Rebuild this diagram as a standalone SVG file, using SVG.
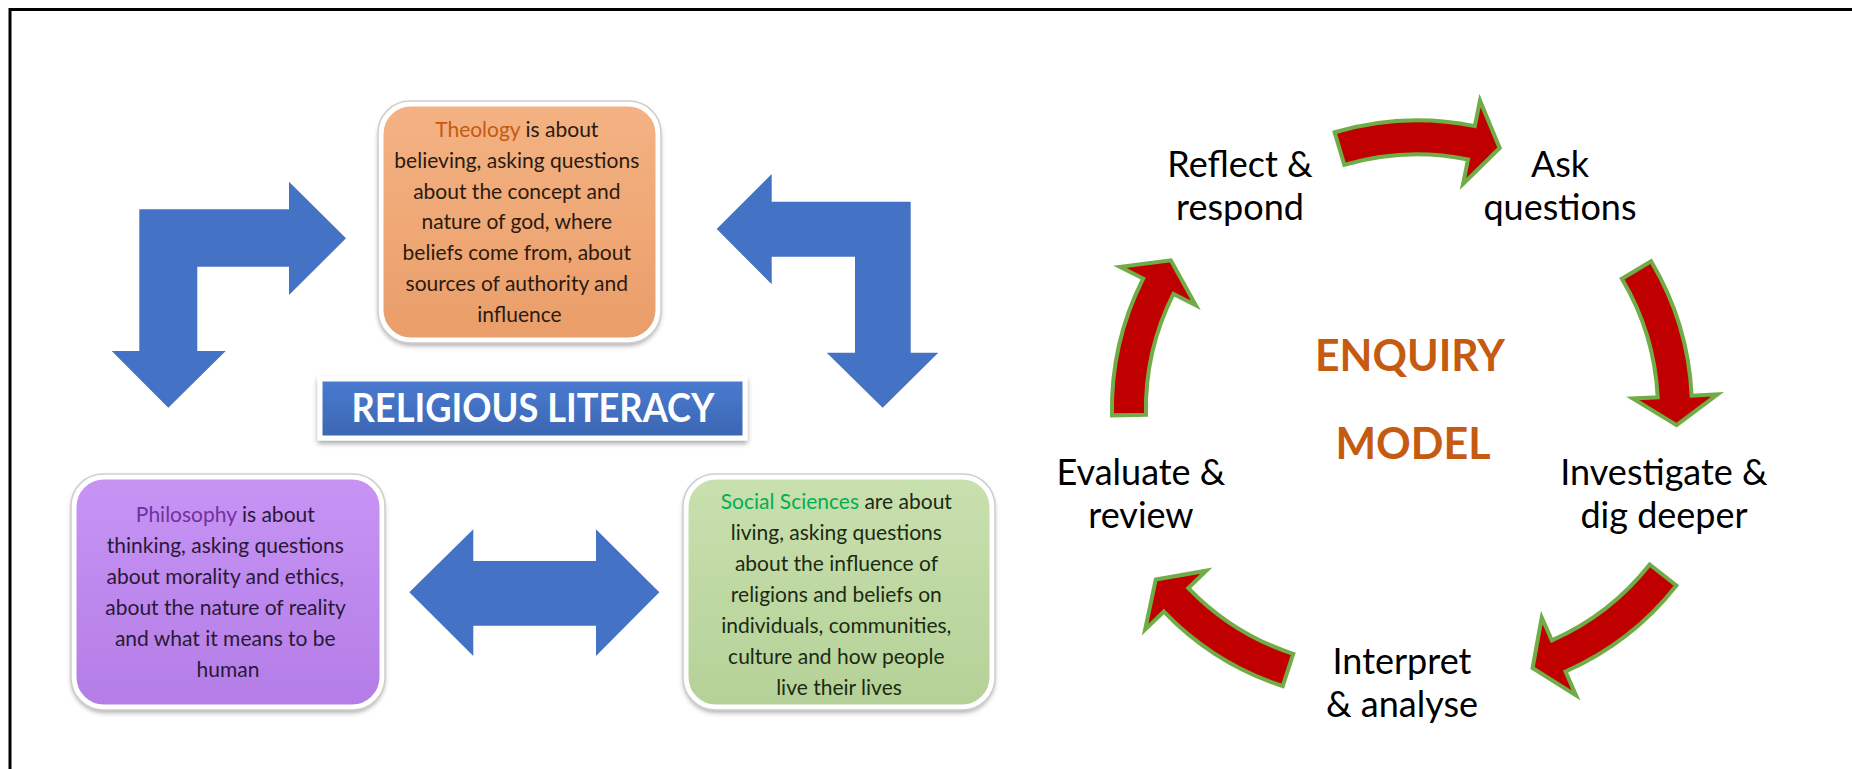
<svg xmlns="http://www.w3.org/2000/svg" width="1852" height="769" viewBox="0 0 1852 769">
<style>
.frame{stroke:#000;stroke-width:3;fill:none}
.blue{fill:#4472C4}
.red{fill:#C00000;stroke:#70AD47;stroke-width:4;stroke-linejoin:miter}
.box{font-family:Lato,"Open Sans",sans-serif;font-size:21px;text-anchor:middle}
.lbl{font-family:Lato,"Open Sans",sans-serif;font-size:36px;text-anchor:middle;fill:#000}
.ttl{font-family:Lato,"Open Sans",sans-serif;font-weight:bold;text-anchor:middle}
.rim{stroke:#fff;stroke-width:5}
.edge{fill:none;stroke:#cfcfcf;stroke-width:1.5}
</style>
<defs>
<linearGradient id="gOr" x1="0" y1="0" x2="0" y2="1"><stop offset="0" stop-color="#F4B283"/><stop offset="1" stop-color="#EA9E69"/></linearGradient>
<linearGradient id="gPu" x1="0" y1="0" x2="0" y2="1"><stop offset="0" stop-color="#C794F4"/><stop offset="1" stop-color="#B47DE7"/></linearGradient>
<linearGradient id="gGr" x1="0" y1="0" x2="0" y2="1"><stop offset="0" stop-color="#C9E0AF"/><stop offset="1" stop-color="#B5D197"/></linearGradient>
<linearGradient id="gBl" x1="0" y1="0" x2="0" y2="1"><stop offset="0" stop-color="#4A7BD0"/><stop offset="1" stop-color="#3C66B2"/></linearGradient>
<filter id="sh" x="-10%" y="-10%" width="120%" height="130%"><feDropShadow dx="0" dy="3" stdDeviation="2.5" flood-color="#000" flood-opacity="0.35"/></filter>
<path id="carc" d="M -70.16,-281.39 A 290 290 0 0 1 70.16,-281.39 L 76.45,-306.61 L 94.06,-258.42 L 55.88,-224.14 L 61.93,-248.40 A 256 256 0 0 0 -61.93,-248.40 Z"/>
</defs>
<rect width="1852" height="769" fill="#fff"/>
<path class="frame" d="M10,769 V9.5 H1852"/>

<g id="connectors">
<polygon class="blue" points="139.3,209.3 289,209.3 289,181.7 346,238.3 289,295 289,266.7 197.3,266.7 197.3,351 225.7,351 168.3,407.7 111.7,351 139.3,351"/>
<polygon class="blue" points="716.7,229 771.7,174 771.7,201.7 910.7,201.7 910.7,352.7 938.3,352.7 882.7,407.7 826.7,352.7 855,352.7 855,256.7 771.7,256.7 771.7,284.3"/>
<polygon class="blue" points="409.3,592.3 473.3,529.3 473.3,561 596,561 596,529.3 659.3,592.3 596,656 596,625.7 473.3,625.7 473.3,656"/>
<use href="#carc" class="red" transform="translate(1417,410.3) rotate(-2.5)"/>
<use href="#carc" class="red" transform="translate(1402,409.8) rotate(73.2)"/>
<use href="#carc" class="red" transform="translate(1448.5,406.2) rotate(142.2)"/>
<use href="#carc" class="red" transform="translate(1372.8,410.5) rotate(212.1)"/>
<use href="#carc" class="red" transform="translate(1401.9,409.5) rotate(282.84)"/>
</g>

<g id="theology">
<rect x="381" y="104" width="277" height="236" rx="30" fill="url(#gOr)" class="rim" filter="url(#sh)"/>
<rect x="378" y="101" width="283" height="242" rx="32" class="edge"/>
<text class="box" fill="#2b1a10">
<tspan x="519.5" y="137"><tspan fill="#C55A11">Theology</tspan> is about</tspan>
<tspan x="519.5" y="167.8">believing, asking questions</tspan>
<tspan x="519.5" y="198.6">about the concept and</tspan>
<tspan x="519.5" y="229.4">nature of god, where</tspan>
<tspan x="519.5" y="260.2">beliefs come from, about</tspan>
<tspan x="519.5" y="291">sources of authority and</tspan>
<tspan x="519.5" y="321.8">influence</tspan>
</text>
</g>

<g id="religious-literacy">
<rect x="320" y="379" width="425" height="59" fill="url(#gBl)" class="rim" filter="url(#sh)"/>
<text class="ttl" x="533" y="422" font-size="40" fill="#fff" textLength="363" lengthAdjust="spacingAndGlyphs">RELIGIOUS LITERACY</text>
</g>

<g id="philosophy">
<rect x="74" y="477" width="308" height="230" rx="30" fill="url(#gPu)" class="rim" filter="url(#sh)"/>
<rect x="71" y="474" width="314" height="236" rx="32" class="edge"/>
<text class="box" fill="#2a1838">
<tspan x="228" y="522"><tspan fill="#7030A0">Philosophy</tspan> is about</tspan>
<tspan x="228" y="553">thinking, asking questions</tspan>
<tspan x="228" y="584">about morality and ethics,</tspan>
<tspan x="228" y="615">about the nature of reality</tspan>
<tspan x="228" y="646">and what it means to be</tspan>
<tspan x="228" y="677">human</tspan>
</text>
</g>

<g id="social-sciences">
<rect x="686" y="477" width="306" height="230" rx="30" fill="url(#gGr)" class="rim" filter="url(#sh)"/>
<rect x="683" y="474" width="312" height="236" rx="32" class="edge"/>
<text class="box" fill="#1b2a12">
<tspan x="839" y="509"><tspan fill="#00B050">Social Sciences</tspan> are about</tspan>
<tspan x="839" y="540">living, asking questions</tspan>
<tspan x="839" y="571">about the influence of</tspan>
<tspan x="839" y="602">religions and beliefs on</tspan>
<tspan x="839" y="633">individuals, communities,</tspan>
<tspan x="839" y="664">culture and how people</tspan>
<tspan x="839" y="695">live their lives</tspan>
</text>
</g>

<g id="enquiry-model">
<text class="ttl" x="1410" y="371" font-size="44" fill="#C55A11" textLength="190" lengthAdjust="spacingAndGlyphs">ENQUIRY</text>
<text class="ttl" x="1413" y="459" font-size="44" fill="#C55A11" textLength="155" lengthAdjust="spacingAndGlyphs">MODEL</text>
</g>
<g id="reflect"><text class="lbl"><tspan x="1240" y="177">Reflect &amp;</tspan><tspan x="1240" y="220">respond</tspan></text></g>
<g id="ask"><text class="lbl"><tspan x="1560" y="177">Ask</tspan><tspan x="1560" y="220">questions</tspan></text></g>
<g id="investigate"><text class="lbl"><tspan x="1664" y="485">Investigate &amp;</tspan><tspan x="1664" y="528">dig deeper</tspan></text></g>
<g id="interpret"><text class="lbl"><tspan x="1402" y="674">Interpret</tspan><tspan x="1402" y="717">&amp; analyse</tspan></text></g>
<g id="evaluate"><text class="lbl"><tspan x="1141" y="485">Evaluate &amp;</tspan><tspan x="1141" y="528">review</tspan></text></g>
</svg>
